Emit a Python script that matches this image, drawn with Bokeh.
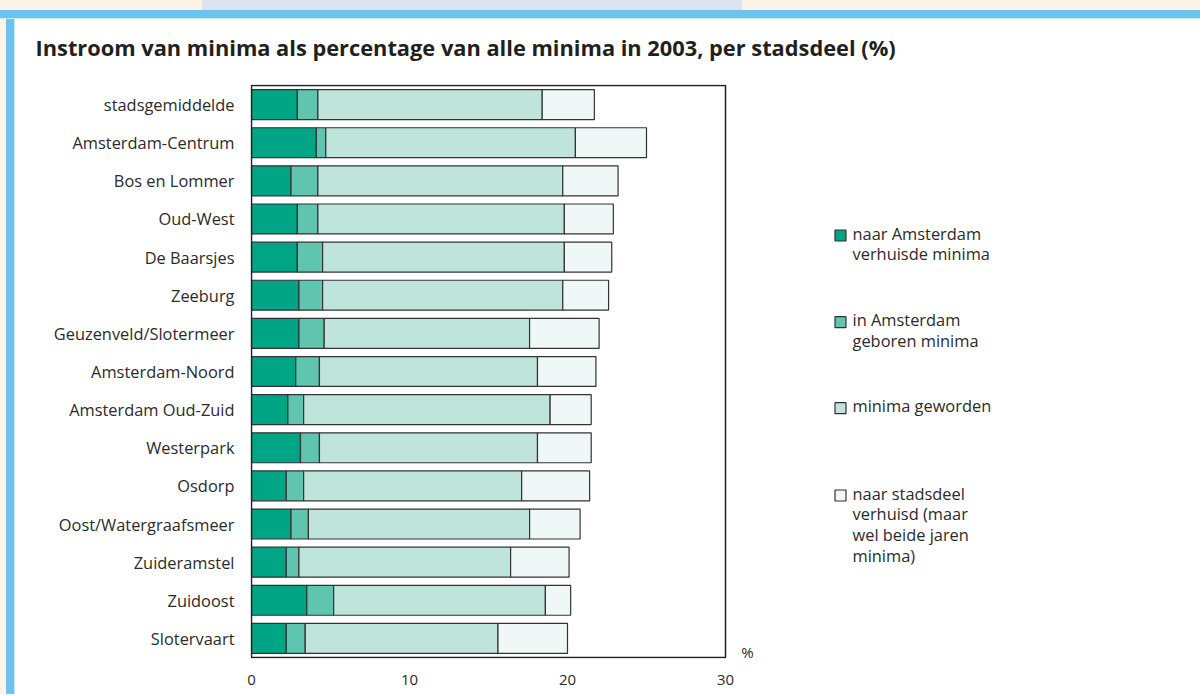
from bokeh.plotting import figure
from bokeh.models import (ColumnDataSource, Range1d, FixedTicker,
                          BoxAnnotation, CustomJSTickFormatter)
from bokeh.embed import file_html
from bokeh.resources import INLINE
from bokeh.core.properties import value

# ---------------- data ----------------
districts = ["stadsgemiddelde", "Amsterdam-Centrum", "Bos en Lommer", "Oud-West",
             "De Baarsjes", "Zeeburg", "Geuzenveld/Slotermeer", "Amsterdam-Noord",
             "Amsterdam Oud-Zuid", "Westerpark", "Osdorp", "Oost/Watergraafsmeer",
             "Zuideramstel", "Zuidoost", "Slotervaart"]
naar_amsterdam = [2.9, 4.1, 2.5, 2.9, 2.9, 3.0, 3.0, 2.8, 2.3, 3.1, 2.2, 2.5, 2.2, 3.5, 2.2]
geboren = [1.3, 0.6, 1.7, 1.3, 1.6, 1.5, 1.6, 1.5, 1.0, 1.2, 1.1, 1.1, 0.8, 1.7, 1.2]
geworden = [14.2, 15.8, 15.5, 15.6, 15.3, 15.2, 13.0, 13.8, 15.6, 13.8, 13.8, 14.0, 13.4, 13.4, 12.2]
naar_stadsdeel = [3.3, 4.5, 3.5, 3.1, 3.0, 2.9, 4.4, 3.7, 2.6, 3.4, 4.3, 3.2, 3.7, 1.6, 4.4]

series_keys = ["naar_amsterdam", "geboren", "geworden", "naar_stadsdeel"]
series_labels = ["naar Amsterdam\nverhuisde minima", "in Amsterdam\ngeboren minima",
                 "minima geworden", "naar stadsdeel\nverhuisd (maar\nwel beide jaren\nminima)"]
colors = ["#00a586", "#5fc5ae", "#bfe4db", "#eff8f6"]
x_ticks = [0, 10, 20, 30]
x_max = 30
title_text = "Instroom van minima als percentage van alle minima in 2003, per stadsdeel (%)"
unit_label = "%"

FONT = "Open Sans"
TEXT_COLOR = "#2b2b2b"
EDGE = "#333333"

# ---------------- layout (page pixels; canvas sits at page origin) ----------------
W, H = 1200, 694
PLOT_L, PLOT_R, PLOT_T, PLOT_B = 251, 725, 85, 657   # the boxed plot area
FRAME_L, FRAME_R, FRAME_T, FRAME_B = PLOT_L - 1, W, PLOT_T - 1, PLOT_B + 1
n = len(districts)
px_per_unit = (PLOT_R - PLOT_L) / x_max
py_per_unit = (PLOT_B - PLOT_T) / n


def to_x(page_x):
    return (page_x - PLOT_L) / px_per_unit


def to_y(page_y):
    return -0.5 + (PLOT_B - page_y) / py_per_unit


ypos = [n - 1 - i for i in range(n)]
src = ColumnDataSource(dict(ypos=ypos, naar_amsterdam=naar_amsterdam,
                            geboren=geboren, geworden=geworden,
                            naar_stadsdeel=naar_stadsdeel))

p = figure(width=W, height=H,
           y_range=Range1d(to_y(FRAME_B), to_y(FRAME_T)),
           x_range=Range1d(to_x(FRAME_L), to_x(FRAME_R)),
           output_backend="svg", toolbar_location=None,
           min_border_left=FRAME_L, min_border_right=W - FRAME_R,
           min_border_top=FRAME_T, min_border_bottom=H - FRAME_B,
           title=title_text)

p.hbar_stack(series_keys, y="ypos", height=0.785, source=src,
             fill_color=colors, line_color=EDGE, line_width=1.2)

# plot box (0..x_max, full category span)
p.add_layout(BoxAnnotation(left=0, right=x_max, bottom=to_y(PLOT_B), top=to_y(PLOT_T),
                           fill_alpha=0, fill_color=None,
                           line_color="#231f20", line_alpha=1.0, line_width=1.5))

p.xgrid.visible = False
p.ygrid.visible = False
p.outline_line_color = None
p.background_fill_color = "white"
p.border_fill_color = None
p.styles = {
    "background":
        "linear-gradient(#dde3f0, #dde3f0) 202px 0px / 540px 10px no-repeat, "
        "linear-gradient(to bottom, #fdf3e6 0px, #fdf3e6 10px, #6ec3ec 10px, #6ec3ec 18px, "
        "#cdeaf7 18px, #cdeaf7 19px, rgba(255,255,255,0) 19px) 0px 0px / 100% 100% no-repeat, "
        "linear-gradient(to right, #fdf3e6 0px, #fdf3e6 6px, #6ec3ec 6px, #6ec3ec 14px, "
        "#cdeaf7 14px, #cdeaf7 15px, #ffffff 15px)"
}

p.xaxis.ticker = FixedTicker(ticks=x_ticks)
p.yaxis.ticker = FixedTicker(ticks=ypos)
p.yaxis.formatter = CustomJSTickFormatter(
    args=dict(names=districts[::-1]),
    code="const i = Math.round(tick); return (i >= 0 && i < names.length) ? names[i] : '';")
for ax in (p.xaxis, p.yaxis):
    ax.axis_line_color = None
    ax.major_tick_line_color = None
    ax.minor_tick_line_color = None
    ax.major_tick_out = 0
    ax.major_tick_in = 0
    ax.major_label_text_font = FONT
    ax.major_label_text_color = TEXT_COLOR
    ax.background_fill_color = None
p.xaxis.major_label_text_font_size = "15px"
p.yaxis.major_label_text_font_size = "16.4px"
p.yaxis.major_label_standoff = 16
p.xaxis.major_label_standoff = 16

p.title.text_font = FONT
p.title.text_font_style = "bold"
p.title.text_font_size = "21.8px"
p.title.text_color = "#231f20"
p.title.align = "left"
p.title.offset = 35 - FRAME_L
p.title.standoff = 45

# ---------------- legend ----------------
sq_page_x = 840
sq_page_ys = [235, 321.7, 407.7, 495]
p.rect(x=[to_x(sq_page_x)] * 4, y=[to_y(v) for v in sq_page_ys],
       width=11 / px_per_unit, height=11 / py_per_unit,
       fill_color=colors, line_color=EDGE, line_width=1.2)
p.text(x=[to_x(852)] * 4, y=[to_y(v - 14) for v in sq_page_ys], text=series_labels,
       text_font=value(FONT), text_font_size="16.4px", text_color=TEXT_COLOR,
       text_baseline="top", text_align="left", text_line_height=0.91)
p.text(x=[to_x(747)], y=[to_y(651.5)], text=[unit_label], text_font=value(FONT),
       text_font_size="15px", text_color=TEXT_COLOR,
       text_baseline="middle", text_align="center")

open("out.html", "w").write(file_html(p, INLINE))
